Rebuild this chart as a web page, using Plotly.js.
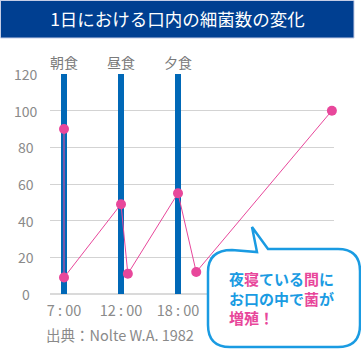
<!DOCTYPE html>
<html><head><meta charset="utf-8">
<script src="https://cdn.plot.ly/plotly-3.0.1.min.js"></script>
<style>html,body{margin:0;padding:0;background:#fff}#c{width:361px;height:355px}</style>
</head><body><div id="c"></div>
<script>
// data
const title = '1日における口内の細菌数の変化';
const mealPos = [0, 1, 2];
const mealLabels = ['朝食', '昼食', '夕食'];
const mealBarHeight = [120, 120, 120];
const timeLabels = ['7 : 00', '12 : 00', '18 : 00'];
const countX = [0, 0, 1, 1.12, 2, 2.32, 4.70];
const countY = [90, 9, 49, 11, 55, 12, 100];
const yTicks = [0, 20, 40, 60, 80, 100, 120];
const source = '出典：Nolte W.A. 1982';
const calloutLines = [
  [['夜','b'],['寝','p'],['ている','b'],['間','p'],['に','b']],
  [['お口の中で','b'],['菌','p'],['が','b']],
  [['増殖！','p']]
];

const W = 361, H = 355;
const M = {l: 50, r: 27, t: 74, b: 61};
const pw = W - M.l - M.r, ph = H - M.t - M.b;
const px = x => (x - M.l) / pw;
const py = y => (H - M.b - y) / ph;
const BLUE = '#0068b7', PINK = '#e8479b', GREY = '#8a8a8a', CB = '#1a9be2';
const FONT = '"Noto Sans CJK JP", "Noto Sans", sans-serif';

const traces = [
  {type: 'bar', x: mealPos, y: mealBarHeight, width: 0.105,
   marker: {color: BLUE, line: {width: 0}}, hoverinfo: 'skip'},
  {type: 'scatter', mode: 'lines+markers', x: countX, y: countY,
   line: {color: PINK, width: 1}, marker: {color: PINK, size: 10},
   cliponaxis: false, hoverinfo: 'skip'}
];

const annotations = [];
mealPos.forEach((p, i) => annotations.push({
  x: p, y: 120, xref: 'x', yref: 'y', text: mealLabels[i], showarrow: false,
  yshift: 12, font: {family: FONT, size: 14, color: '#7a7a7a'}, xanchor: 'center', yanchor: 'middle'}));
yTicks.forEach(v => annotations.push({
  x: px(26), y: v, xref: 'paper', yref: 'y', text: String(v), showarrow: false,
  font: {family: FONT, size: 14, color: GREY}, xanchor: 'center', yanchor: 'middle'}));
annotations.push({x: px(44), y: py(334), xref: 'paper', yref: 'paper', text: source,
  showarrow: false, xanchor: 'left', yanchor: 'middle',
  font: {family: FONT, size: 14.5, color: GREY}});
const col = {b: CB, p: PINK};
const ctext = calloutLines.map(l => l.map(s => `<span style="color:${col[s[1]]}">${s[0]}</span>`).join('')).join('<br>');
annotations.push({x: px(227), y: py(298), xref: 'paper', yref: 'paper', text: ctext,
  showarrow: false, xanchor: 'left', yanchor: 'middle', align: 'left',
  font: {family: FONT, size: 15, color: CB, weight: 'bold'}});

const P = (x, y) => `${px(x)},${py(y)}`;
const bubble = `M ${P(252,227)} L ${P(268,249)} L ${P(338,249)} Q ${P(360,249)} ${P(360,271)} L ${P(360,325)} Q ${P(360,347)} ${P(338,347)} L ${P(230,347)} Q ${P(208,347)} ${P(208,325)} L ${P(208,272)} Q ${P(208,250)} ${P(232,250)} L ${P(257,252)} Z`;

const layout = {
  width: W, height: H, margin: M, paper_bgcolor: '#fff', plot_bgcolor: '#fff',
  showlegend: false, bargap: 0,
  title: {text: title, x: px(177.5), xref: 'paper', xanchor: 'center', y: 1 - 20/H, yref: 'container', yanchor: 'middle',
    font: {family: FONT, size: 17.5, color: '#fff'}},
  xaxis: {range: [-0.2456, 4.737], tickvals: mealPos, ticktext: timeLabels, showgrid: false,
    zeroline: false, showline: false, ticks: '', ticklabelstandoff: 6,
    tickfont: {family: FONT, size: 14.5, color: GREY}, fixedrange: true},
  yaxis: {range: [0, 120], tickvals: yTicks, showticklabels: false, showgrid: true,
    gridcolor: '#d3d3d3', gridwidth: 1, zeroline: true, zerolinecolor: '#dadada', zerolinewidth: 2,
    showline: false, ticks: '', fixedrange: true},
  shapes: [
    {type: 'rect', xref: 'paper', yref: 'paper', x0: px(0.5), x1: px(354), y0: py(0.5), y1: py(38),
     fillcolor: '#003f91', line: {color: '#c5cde6', width: 1}, layer: 'above'},
    {type: 'path', xref: 'paper', yref: 'paper', path: bubble, fillcolor: '#fff',
     line: {color: CB, width: 2.5}, layer: 'above'}
  ],
  annotations: annotations
};
Plotly.newPlot('c', traces, layout, {displayModeBar: false, staticPlot: true});
</script></body></html>
